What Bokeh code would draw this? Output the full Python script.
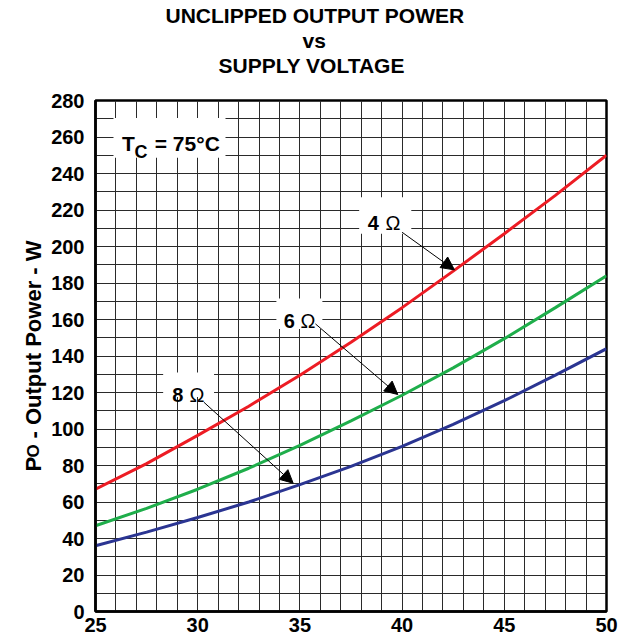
from bokeh.plotting import figure
from bokeh.models import Range1d, FixedTicker, SingleIntervalTicker, Arrow, NormalHead, Title, LinearAxis
from bokeh.core.properties import value
from bokeh.embed import file_html
from bokeh.resources import INLINE

# ---- data ----
voltage = [25, 27.5, 30, 32.5, 35, 37.5, 40, 42.5, 45, 47.5, 50]
p_4ohm = [67, 81, 96.5, 112.5, 129.5, 147.5, 166.5, 186.5, 207, 228, 250]
p_6ohm = [47, 56.5, 67, 78.5, 91, 104.5, 118.5, 133.5, 149.5, 166.5, 184]
p_8ohm = [36, 43.5, 51.5, 60, 69.5, 79.5, 90.5, 102.5, 115.5, 129.5, 144]
x_ticks = [25, 30, 35, 40, 45, 50]
y_ticks = [0, 20, 40, 60, 80, 100, 120, 140, 160, 180, 200, 220, 240, 260, 280]
series_labels = ["4", "6", "8"]
title_lines = ["UNCLIPPED OUTPUT POWER", "vs", "SUPPLY VOLTAGE"]

FONT = "Liberation Sans"
NBSP = "\u00a0"

p = figure(width=618, height=641, x_range=Range1d(25, 50), y_range=Range1d(0, 280),
           output_backend="svg", toolbar_location=None, title=None,
           min_border_left=95, min_border_right=12, min_border_top=100, min_border_bottom=30)
p.background_fill_color = "white"
p.border_fill_color = "white"
p.outline_line_color = "black"
p.outline_line_width = 2.5

def style_axis(ax):
    ax.major_tick_in = 0
    ax.major_tick_out = 0
    ax.minor_tick_in = 0
    ax.minor_tick_out = 0
    ax.major_label_text_font = FONT
    ax.major_label_text_font_style = "bold"
    ax.major_label_text_color = "black"

# axes
for ax, tk in ((p.xaxis[0], x_ticks), (p.yaxis[0], y_ticks)):
    ax.ticker = FixedTicker(ticks=tk, minor_ticks=[])
    style_axis(ax)
    ax.axis_line_color = "black"
    ax.axis_line_width = 2.5
    ax.major_label_text_font_size = "20px"
p.xaxis[0].major_label_standoff = 6
p.yaxis[0].major_label_standoff = 11
yax = p.yaxis[0]
yax.axis_label = "P" + NBSP * 2 + " - Output Power - W"
yax.axis_label_text_font = FONT
yax.axis_label_text_font_size = "22px"
yax.axis_label_text_font_style = "bold"
yax.axis_label_text_color = "black"
yax.axis_label_standoff = 2

# subscript "O" of the axis title, drawn by a helper axis
sub = LinearAxis(ticker=FixedTicker(ticks=[88], minor_ticks=[]),
                 major_label_overrides={88: "\nO"})
style_axis(sub)
sub.axis_line_color = None
sub.major_label_text_font_size = "17px"
sub.major_label_text_line_height = 0.95
sub.major_label_orientation = "vertical"
sub.major_label_standoff = -25
p.add_layout(sub, "left")

# grid
p.xgrid[0].ticker = SingleIntervalTicker(interval=1)
p.ygrid[0].ticker = SingleIntervalTicker(interval=10)
for g in (p.xgrid[0], p.ygrid[0]):
    g.grid_line_color = "#2a2a2a"
    g.grid_line_width = 1
    g.grid_line_alpha = 1

# curves
p.line(voltage, p_4ohm, line_color="#ED1C24", line_width=3)
p.line(voltage, p_6ohm, line_color="#1FAE4B", line_width=3)
p.line(voltage, p_8ohm, line_color="#2B3592", line_width=3)

# white label boxes
p.quad(left=[25.88, 37.9, 33.85, 28.31], right=[31.36, 40.45, 36.1, 30.8],
       bottom=[248.6, 207.0, 154.8, 117.5], top=[270.4, 227.0, 171.5, 131.0],
       fill_color="white", line_color=None)

def txt(x, y, s, size="20px", style="bold"):
    p.text(x=[x], y=[y], text=[s], text_font=value(FONT), text_font_size=size,
           text_font_style=style, text_align="left", text_baseline="alphabetic",
           text_color="black")

# T_C = 75°C
txt(26.30, 256.4, "T", size="21px")
txt(26.91, 252.0, "C", size="18px")
txt(27.90, 256.4, "= 75°C", size="21px")

# resistance labels
for (xd, xo, yb), lab in zip([(38.32, 39.19, 212.8), (34.21, 35.03, 159.1), (28.75, 29.60, 118.7)], series_labels):
    txt(xd, yb, lab, size="20px")
    txt(xo, yb, "Ω", size="20px", style="normal")

# arrows
for xs, ys, xe, ye in [(40.0, 207.8, 42.56, 187.2), (35.76, 157.6, 39.79, 118.9), (30.30, 114.7, 34.67, 70.3)]:
    p.add_layout(Arrow(end=NormalHead(size=13, fill_color="black", line_color="black", line_width=1),
                       x_start=xs, y_start=ys, x_end=xe, y_end=ye,
                       line_color="black", line_width=1))

# spacer between the title block and the frame
p.add_layout(Title(text=" ", text_font_size="1px", standoff=21), "above")
# title lines (stacked above the frame, nearest first)
offsets = {"UNCLIPPED OUTPUT POWER": 70, "vs": 207, "SUPPLY VOLTAGE": 123}
for s in reversed(title_lines):
    p.add_layout(Title(text=s, align="left", offset=offsets[s], standoff=0,
                       text_font=FONT, text_font_size="21px", text_font_style="bold",
                       text_color="black"), "above")

open("out.html", "w").write(file_html(p, INLINE))
